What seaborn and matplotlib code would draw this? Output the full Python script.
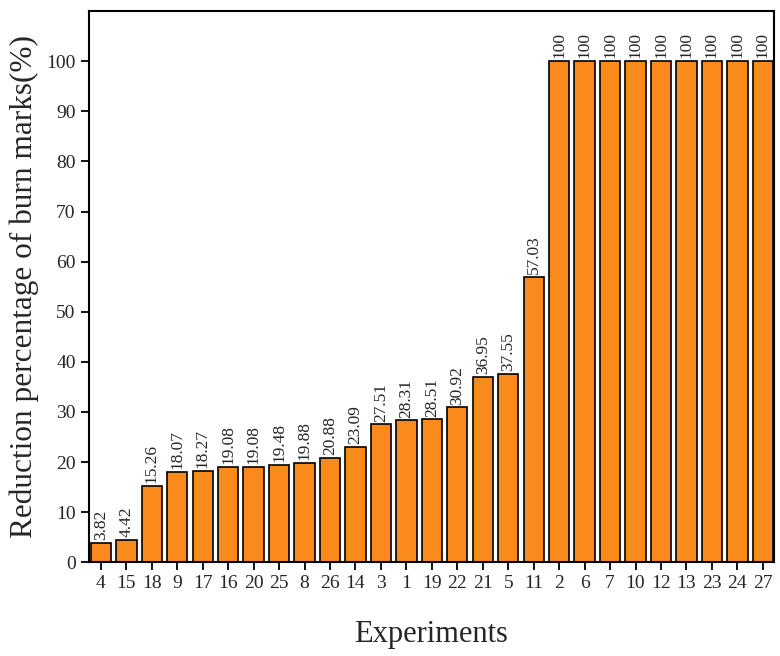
import pandas as pd
import matplotlib
matplotlib.use("Agg")
import matplotlib.pyplot as plt
import seaborn as sns

# Data
experiments = ['4', '15', '18', '9', '17', '16', '20', '25', '8', '26', '14', '3', '1', '19',
               '22', '21', '5', '11', '2', '6', '7', '10', '12', '13', '23', '24', '27']
reduction = [3.82, 4.42, 15.26, 18.07, 18.27, 19.08, 19.08, 19.48, 19.88, 20.88, 23.09,
             27.51, 28.31, 28.51, 30.92, 36.95, 37.55, 57.03,
             100, 100, 100, 100, 100, 100, 100, 100, 100]
value_labels = ['3.82', '4.42', '15.26', '18.07', '18.27', '19.08', '19.08', '19.48', '19.88',
                '20.88', '23.09', '27.51', '28.31', '28.51', '30.92', '36.95', '37.55', '57.03',
                '100', '100', '100', '100', '100', '100', '100', '100', '100']

df = pd.DataFrame({'Experiment': experiments, 'Reduction': reduction})

sns.set_style("ticks")
plt.rcParams['font.family'] = ['Liberation Serif', 'DejaVu Serif']

fig = plt.figure(figsize=(7.8, 6.56), dpi=100)
ax = fig.add_axes([0.114, 0.143, 0.878, 0.840])

sns.barplot(data=df, x='Experiment', y='Reduction', order=experiments,
            color='#FA8A1C', saturation=1, edgecolor='black', linewidth=1.2,
            width=0.8, ax=ax)

ax.bar_label(ax.containers[0], labels=value_labels, rotation=90, padding=2, fontsize=12.5)

ax.set_ylim(0, 110)
ax.set_xlim(-0.47, 26.43)
ax.set_yticks(range(0, 101, 10))
ax.set_xlabel('Experiments', fontsize=22, labelpad=20)
ax.set_ylabel('Reduction percentage of burn marks(%)', fontsize=22.5, labelpad=5)
ax.tick_params(axis='both', which='major', labelsize=14, direction='out', length=6,
               width=1.3, color='black', top=False, right=False)
for s in ax.spines.values():
    s.set_visible(True)
    s.set_linewidth(1.5)
    s.set_color('black')

fig.savefig('out.png', dpi=100)
